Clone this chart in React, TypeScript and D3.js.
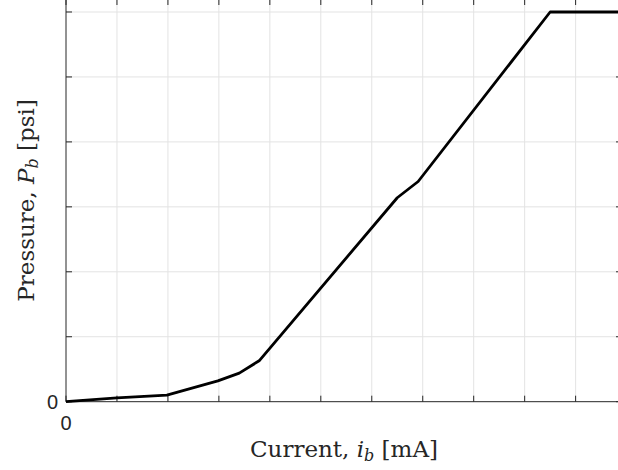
import React from "react";
import * as d3 from "d3";

// current [tick units] and pressure [tick units]
const currentVals = [0, 1.0, 1.98, 2.98, 3.4, 3.79, 6.5, 6.91, 9.5, 11];
const pressureVals = [0, 0.06, 0.1, 0.32, 0.44, 0.63, 3.14, 3.39, 6.0, 6.0];
const xTicks = [0, 1, 2, 3, 4, 5, 6, 7, 8, 9, 10];
const yTicks = [0, 1, 2, 3, 4, 5, 6];
const xTickLabels = ["0"];
const yTickLabels = ["0"];

const W = 618;
const H = 470;
const left = 66;
const right = 622;
const top = -1;
const bottom = 401.7;

const serif = "DejaVu Serif, serif";
const sans = "Liberation Sans, Arial, sans-serif";

const App = () => {
  const x = d3.scaleLinear().domain([0, 10.91]).range([left, right]);
  const y = d3.scaleLinear().domain([0, 6.2]).range([bottom, top]);

  const data = currentVals.map((c, i) => [c, pressureVals[i]] as [number, number]);
  const line = d3
    .line<[number, number]>()
    .x(d => x(d[0]))
    .y(d => y(d[1]));

  const axisColor = "#262626";
  const tickLen = 6;

  return (
    <svg
      width={W}
      height={H}
      style={{ position: "absolute", left: 0, top: 0, overflow: "hidden", background: "#fff" }}
    >
      <rect width={W} height={H} fill="#fff" />
      <g className="grid">
        {xTicks.slice(1).map(t => (
          <line key={"gx" + t} x1={x(t)} x2={x(t)} y1={top} y2={bottom} stroke="#e3e3e3" strokeWidth={1} />
        ))}
        {yTicks.slice(1).map(t => (
          <line key={"gy" + t} x1={left} x2={right} y1={y(t)} y2={y(t)} stroke="#e3e3e3" strokeWidth={1} />
        ))}
      </g>
      <g className="axis" stroke={axisColor} strokeWidth={1}>
        <line x1={left} x2={right} y1={bottom} y2={bottom} />
        <line x1={left} x2={right} y1={top} y2={top} />
        <line x1={left} x2={left} y1={top} y2={bottom} />
        <line x1={right} x2={right} y1={top} y2={bottom} />
        {xTicks.map(t => (
          <g key={"tx" + t}>
            <line x1={x(t)} x2={x(t)} y1={bottom} y2={bottom - tickLen} />
            <line x1={x(t)} x2={x(t)} y1={top} y2={top + tickLen} />
          </g>
        ))}
        {yTicks.map(t => (
          <g key={"ty" + t}>
            <line x1={left} x2={left + tickLen} y1={y(t)} y2={y(t)} />
            <line x1={right} x2={right - tickLen} y1={y(t)} y2={y(t)} />
          </g>
        ))}
      </g>
      <path d={line(data) || ""} fill="none" stroke="#000" strokeWidth={2.8} strokeLinejoin="round" />
      {xTickLabels.map((l, i) => (
        <text key={"xl" + i} x={x(xTicks[i])} y={bottom + 28} textAnchor="middle" fontFamily={sans} fontSize={20} fill={axisColor}>
          {l}
        </text>
      ))}
      {yTickLabels.map((l, i) => (
        <text key={"yl" + i} x={left - 8} y={y(yTicks[i]) + 7} textAnchor="end" fontFamily={sans} fontSize={20} fill={axisColor}>
          {l}
        </text>
      ))}
      <text x={(left + right) / 2} y={457} textAnchor="middle" fontFamily={serif} fontSize={23} fill="#262626">
        Current,{" "}
        <tspan fontStyle="italic">i</tspan>
        <tspan fontStyle="italic" fontSize={16} dy={4}>b</tspan>
        <tspan dy={-4}> [mA]</tspan>
      </text>
      <text
        transform={`translate(34, ${(top + bottom) / 2}) rotate(-90)`}
        textAnchor="middle"
        fontFamily={serif}
        fontSize={23}
        fill="#262626"
      >
        Pressure,{" "}
        <tspan fontStyle="italic">P</tspan>
        <tspan fontStyle="italic" fontSize={16} dy={4}>b</tspan>
        <tspan dy={-4}> [psi]</tspan>
      </text>
    </svg>
  );
};

export default App;
